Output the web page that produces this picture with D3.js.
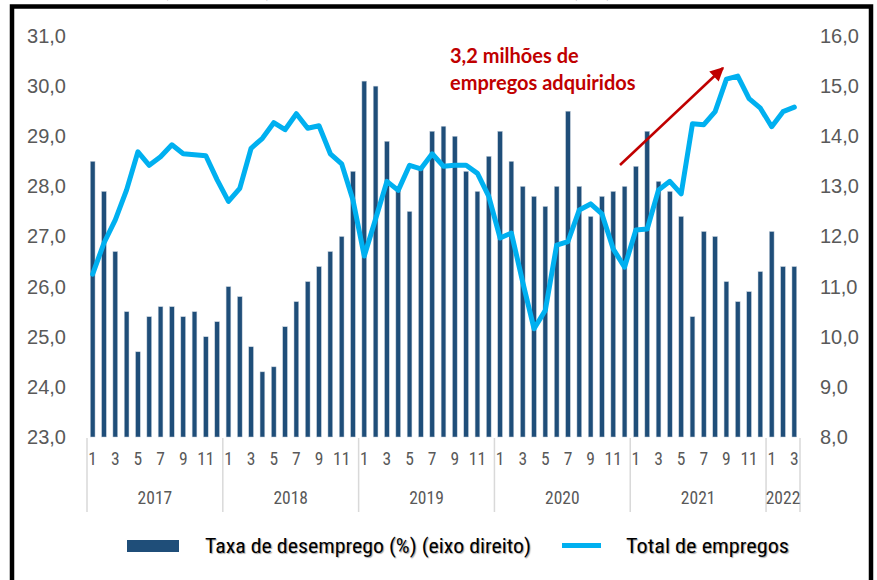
<!DOCTYPE html>
<html>
<head>
<meta charset="utf-8">
<script src="https://cdn.jsdelivr.net/npm/d3@7"></script>
<style>
  body { margin: 0; background: #fff; }
  svg { display: block; }
  text { font-family: "Liberation Sans Narrow", "Roboto Condensed", "Liberation Sans", sans-serif; }
  .lg { text-shadow: 1px 1px 1px rgba(0,0,0,0.35); }
</style>
</head>
<body>
<script>
// anos e meses (jan/2017 a mar/2022)
const years = [2017, 2018, 2019, 2020, 2021, 2022];
const monthsPerYear = [12, 12, 12, 12, 12, 3];

// taxa de desemprego (%) - eixo direito
const unemployment = [
  13.5, 12.9, 11.7, 10.5, 9.7, 10.4, 10.6, 10.6, 10.4, 10.5, 10.0, 10.3,
  11.0, 10.8, 9.8, 9.3, 9.4, 10.2, 10.7, 11.1, 11.4, 11.7, 12.0, 13.3,
  15.1, 15.0, 13.9, 13.0, 12.5, 13.4, 14.1, 14.2, 14.0, 13.3, 12.9, 13.6,
  14.1, 13.5, 13.0, 12.8, 12.6, 13.0, 14.5, 13.0, 12.4, 12.8, 12.9, 13.0,
  13.4, 14.1, 13.1, 12.9, 12.4, 10.4, 12.1, 12.0, 11.1, 10.7, 10.9, 11.3,
  12.1, 11.4, 11.4
];

// total de empregos (milhões) - eixo esquerdo
const employment = [
  26.25, 26.87, 27.33, 27.93, 28.69, 28.42, 28.59, 28.83, 28.65, 28.63, 28.61, 28.13,
  27.70, 27.96, 28.76, 28.96, 29.27, 29.13, 29.45, 29.16, 29.21, 28.65, 28.45, 27.73,
  26.61, 27.35, 28.10, 27.92, 28.42, 28.35, 28.65, 28.40, 28.42, 28.42, 28.26, 27.80,
  26.97, 27.07, 26.09, 25.16, 25.53, 26.83, 26.90, 27.53, 27.65, 27.45, 26.75, 26.39,
  27.13, 27.15, 27.93, 28.10, 27.85, 29.25, 29.23, 29.49, 30.14, 30.20, 29.75, 29.56,
  29.19, 29.49, 29.58
];

const leftTicks = [23, 24, 25, 26, 27, 28, 29, 30, 31];
const rightTicks = [8, 9, 10, 11, 12, 13, 14, 15, 16];

const W = 877, H = 580;
const fmt = d => d.toFixed(1).replace(".", ",");

// lista de meses
const months = [];
years.forEach((y, i) => {
  for (let m = 1; m <= monthsPerYear[i]; m++) months.push({ year: y, month: m, key: y + "-" + m });
});

const svg = d3.select("body").append("svg")
  .attr("width", W).attr("height", H);

svg.append("rect").attr("width", W).attr("height", H).attr("fill", "#fff");

// titulo (cortado no topo, como no original)
svg.append("text")
  .attr("x", 160).attr("y", -5)
  .attr("textLength", 455).attr("lengthAdjust", "spacing")
  .style("font-family", "'Liberation Serif', serif")
  .style("font-weight", "bold").style("font-size", "26px")
  .attr("fill", "#000")
  .text("(milhões) e Taxa de Desemprego (%)");

// moldura
svg.append("rect")
  .attr("x", 12).attr("y", 6.5).attr("width", 859).attr("height", 600)
  .attr("fill", "none").attr("stroke", "#000").attr("stroke-width", 4.5);

const x = d3.scaleBand()
  .domain(months.map(d => d.key))
  .range([87, 800])
  .paddingInner(0.58).paddingOuter(0.29);

const yL = d3.scaleLinear().domain([23, 31]).range([437, 36]);
const yR = d3.scaleLinear().domain([8, 16]).range([437, 36]);

// eixos
const axL = svg.append("g").attr("transform", "translate(72,0)")
  .call(d3.axisLeft(yL).tickValues(leftTicks).tickFormat(fmt).tickSize(0).tickPadding(6));
const axR = svg.append("g").attr("transform", "translate(813,0)")
  .call(d3.axisRight(yR).tickValues(rightTicks).tickFormat(fmt).tickSize(0).tickPadding(7));
[axL, axR].forEach(a => {
  a.select(".domain").remove();
  a.selectAll("text").attr("fill", "#595959").style("font-size", "20px")
    .style("font-family", "'Liberation Sans Narrow', 'Liberation Sans', sans-serif");
});

// barras
svg.append("g").selectAll("rect")
  .data(months)
  .enter().append("rect")
  .attr("x", d => x(d.key))
  .attr("width", x.bandwidth())
  .attr("y", (d, i) => yR(unemployment[i]))
  .attr("height", (d, i) => yR(8) - yR(unemployment[i]))
  .attr("fill", "#1f4e79")
  .attr("stroke", "#c9d3de").attr("stroke-width", 0.5);

// linha
const line = d3.line()
  .x(d => x(d.key) + x.bandwidth() / 2)
  .y((d, i) => yL(employment[i]));

svg.append("path")
  .datum(months)
  .attr("d", line)
  .attr("fill", "none")
  .attr("stroke", "#00b0f0")
  .attr("stroke-width", 5)
  .attr("stroke-linejoin", "round")
  .attr("stroke-linecap", "round");

// eixo x - meses
const oddMonths = months.filter(d => d.month % 2 === 1).map(d => d.key);
const axX = svg.append("g").attr("transform", "translate(0,437)")
  .call(d3.axisBottom(x).tickValues(oddMonths).tickFormat(k => k.split("-")[1]).tickSize(0).tickPadding(16));
axX.select(".domain").remove();
axX.selectAll("text").attr("fill", "#595959").style("font-size", "17.5px");

// separadores e anos
let start = 0;
const yearSpans = years.map((y, i) => {
  const s = { year: y, x0: x.step() * start + 87, x1: x.step() * (start + monthsPerYear[i]) + 87 };
  start += monthsPerYear[i];
  return s;
});
const bounds = [yearSpans[0].x0].concat(yearSpans.map(d => d.x1));
svg.append("g").selectAll("line")
  .data(bounds)
  .enter().append("line")
  .attr("x1", d => d).attr("x2", d => d)
  .attr("y1", 438).attr("y2", 512)
  .attr("stroke", "#d9d9d9").attr("stroke-width", 1.5);

svg.append("g").selectAll("text")
  .data(yearSpans)
  .enter().append("text")
  .attr("x", d => (d.x0 + d.x1) / 2)
  .attr("y", 504)
  .attr("text-anchor", "middle")
  .attr("fill", "#595959")
  .style("font-size", "17.5px")
  .text(d => d.year);

// anotacao
const ann = svg.append("text")
  .attr("fill", "#c00000")
  .style("font-family", "Lato, sans-serif")
  .style("font-weight", "bold").style("font-size", "20px");
ann.append("tspan").attr("x", 450).attr("y", 63).text("3,2 milhões de");
ann.append("tspan").attr("x", 450).attr("y", 90).text("empregos adquiridos");

svg.append("defs").append("marker")
  .attr("id", "arrow").attr("viewBox", "0 0 10 10")
  .attr("refX", 9).attr("refY", 5)
  .attr("markerWidth", 6).attr("markerHeight", 5.5)
  .attr("orient", "auto").attr("markerUnits", "strokeWidth")
  .append("path").attr("d", "M0,0L10,5L0,10Z").attr("fill", "#c00000");

svg.append("line")
  .attr("x1", 620).attr("y1", 165).attr("x2", 723).attr("y2", 68)
  .attr("stroke", "#c00000").attr("stroke-width", 2.5)
  .attr("marker-end", "url(#arrow)");

// legenda
svg.append("rect")
  .attr("x", 127).attr("y", 540).attr("width", 52).attr("height", 12)
  .attr("fill", "#1f4e79");
svg.append("text").attr("class", "lg")
  .attr("x", 205).attr("y", 553)
  .attr("textLength", 326).attr("lengthAdjust", "spacingAndGlyphs")
  .attr("fill", "#000").style("font-size", "21px")
  .text("Taxa de desemprego (%) (eixo direito)");

svg.append("line")
  .attr("x1", 562).attr("x2", 601).attr("y1", 545.5).attr("y2", 545.5)
  .attr("stroke", "#00b0f0").attr("stroke-width", 5);
svg.append("text").attr("class", "lg")
  .attr("x", 626).attr("y", 553)
  .attr("textLength", 163).attr("lengthAdjust", "spacingAndGlyphs")
  .attr("fill", "#000").style("font-size", "21px")
  .text("Total de empregos");
</script>
</body>
</html>
